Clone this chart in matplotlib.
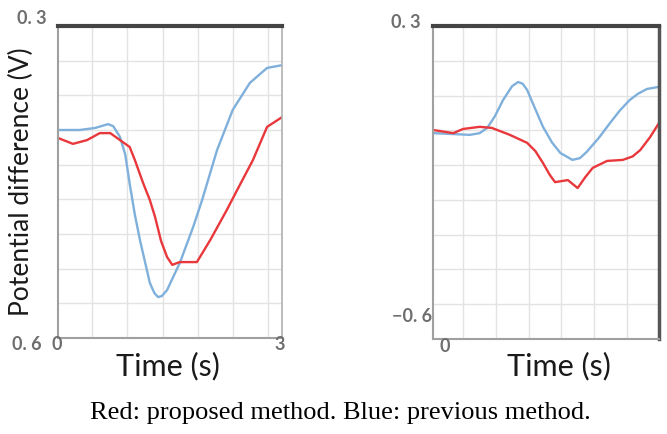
import numpy as np
import matplotlib
matplotlib.use("Agg")
import matplotlib.pyplot as plt

# left panel (time in s, potential difference in V)
t_left_blue = [0.0, 0.29, 0.50, 0.67, 0.74, 0.83, 0.90, 0.96, 1.03, 1.10, 1.17, 1.23,
               1.29, 1.34, 1.39, 1.46, 1.63, 1.81, 1.93, 2.13, 2.34, 2.57, 2.80, 3.00]
v_left_blue = [0.0, 0.0, 0.006, 0.017, 0.011, -0.020, -0.070, -0.155, -0.245, -0.320,
               -0.385, -0.441, -0.470, -0.482, -0.479, -0.462, -0.384, -0.280, -0.202,
               -0.058, 0.058, 0.136, 0.179, 0.187]
t_left_red = [0.0, 0.20, 0.39, 0.56, 0.70, 0.83, 0.96, 1.03, 1.14, 1.23, 1.30, 1.38,
              1.46, 1.53, 1.63, 1.86, 2.04, 2.26, 2.40, 2.61, 2.80, 3.00]
v_left_red = [-0.023, -0.040, -0.029, -0.009, -0.009, -0.029, -0.049, -0.087, -0.153,
              -0.202, -0.251, -0.320, -0.366, -0.389, -0.381, -0.381, -0.317, -0.231,
              -0.173, -0.087, 0.009, 0.037]

# right panel
t_right_blue = [0.0, 0.49, 0.62, 0.72, 0.82, 0.93, 1.05, 1.13, 1.19, 1.25, 1.35, 1.46,
                1.58, 1.69, 1.85, 1.95, 2.04, 2.20, 2.35, 2.48, 2.61, 2.72, 2.84, 3.00]
v_right_blue = [-0.008, -0.013, -0.008, 0.007, 0.040, 0.087, 0.127, 0.139, 0.134, 0.116,
                0.065, 0.010, -0.035, -0.065, -0.085, -0.080, -0.062, -0.022, 0.021,
                0.057, 0.087, 0.105, 0.119, 0.125]
t_right_red = [0.0, 0.27, 0.40, 0.62, 0.78, 1.02, 1.25, 1.36, 1.46, 1.55, 1.62, 1.79,
               1.92, 2.02, 2.12, 2.31, 2.52, 2.65, 2.75, 2.88, 3.00]
v_right_red = [0.001, -0.008, 0.004, 0.010, 0.007, -0.013, -0.036, -0.060, -0.094,
               -0.128, -0.149, -0.143, -0.166, -0.135, -0.108, -0.088, -0.085, -0.075,
               -0.057, -0.020, 0.021]

BLUE = "#7fb0dc"
RED = "#e8383c"
W, H = 667, 434

fig = plt.figure(figsize=(W / 100, H / 100), dpi=100)


def px_axes(x0, y0, x1, y1):
    return fig.add_axes([x0 / W, 1 - y1 / H, (x1 - x0) / W, (y1 - y0) / H])


def style(ax, xgrid, right_dark):
    ax.set_xlim(0, 3)
    ax.set_ylim(-0.6, 0.3)
    ax.set_xticks(xgrid)
    ax.set_yticks(np.arange(-0.5, 0.25, 0.1))
    ax.tick_params(length=0, labelbottom=False, labelleft=False)
    ax.grid(True, color="#e3e3e3", lw=1.0)
    ax.set_axisbelow(True)
    for s in ["left", "bottom"]:
        ax.spines[s].set_color("#a0a0a0")
        ax.spines[s].set_linewidth(1.5)
    ax.spines["top"].set_color("#444444")
    ax.spines["top"].set_linewidth(3)
    if right_dark:
        ax.spines["right"].set_color("#555555")
        ax.spines["right"].set_linewidth(2.5)
    else:
        ax.spines["right"].set_color("#b0b0b0")
        ax.spines["right"].set_linewidth(1.2)


ax1 = px_axes(58, 26, 282, 338)
ax1.plot(t_left_blue, v_left_blue, color=BLUE, lw=1.7)
ax1.plot(t_left_red, v_left_red, color=RED, lw=1.7)
style(ax1, np.arange(0.46, 3.0, 0.47), False)

ax2 = px_axes(433, 26, 659, 339)
ax2.plot(t_right_blue, v_right_blue, color=BLUE, lw=1.7)
ax2.plot(t_right_red, v_right_red, color=RED, lw=1.7)
style(ax2, np.arange(0.40, 3.0, 0.435), True)

sans = ["Lato", "DejaVu Sans"]
grey = "#6e6e6e"


def ftext(x, y, s, **kw):
    fig.text(x / W, 1 - y / H, s, **kw)


# corner labels as in the original figure
num = dict(fontsize=13, color=grey, fontweight="bold", family=sans,
           ha="center", va="center")
ftext(32, 18, "0. 3", **num)
ftext(27, 344, "0. 6", **num)
ftext(406, 23, "0. 3", **num)
ftext(412, 316, "\u22120. 6", **num)
ftext(57, 344, "0", **num)
ftext(280, 344, "3", **num)
ftext(445, 346, "0", **num)

ftext(168, 366, "Time (s)", fontsize=22, color="#1a1a1a", family=sans,
      ha="center", va="center")
ftext(559, 366, "Time (s)", fontsize=22, color="#1a1a1a", family=sans,
      ha="center", va="center")
ftext(21, 182, "Potential difference (V)", fontsize=19, color="#1a1a1a", family=sans,
      rotation=90, ha="center", va="center")

ftext(340, 413, "Red: proposed method. Blue: previous method.", fontsize=19,
      color="black", family=["Liberation Serif", "DejaVu Serif"], ha="center", va="center")

fig.savefig("out.png", dpi=100)
